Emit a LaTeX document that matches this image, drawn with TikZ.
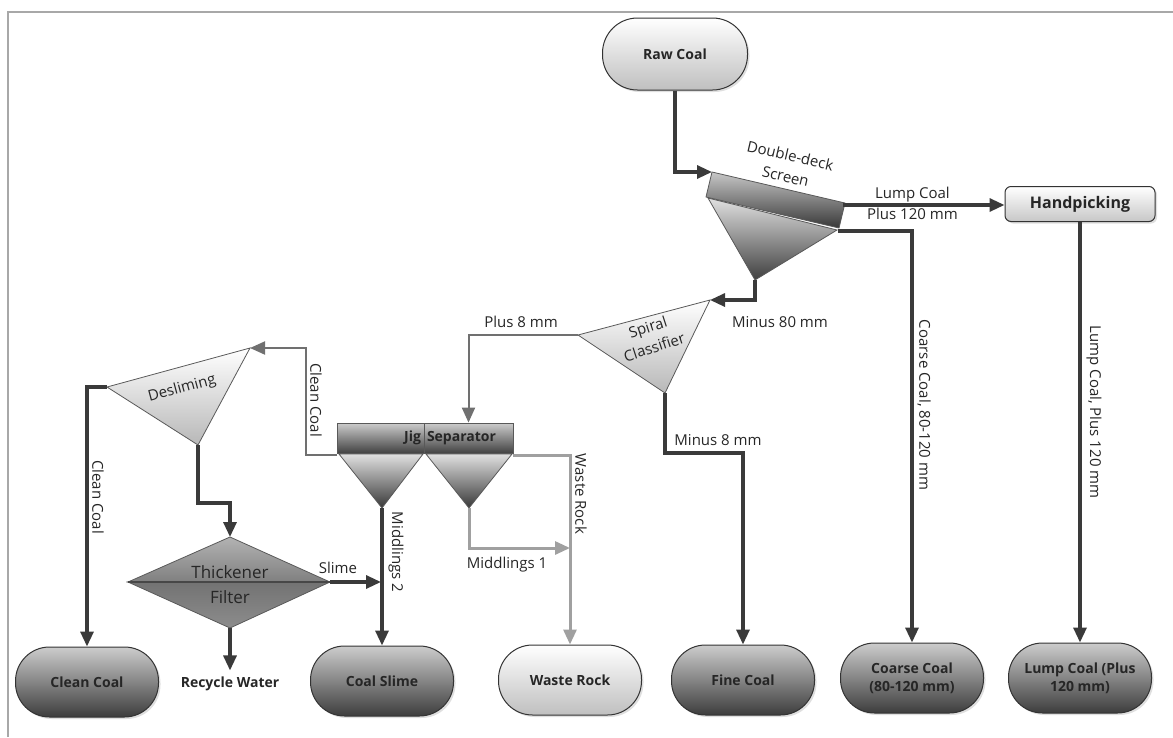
\documentclass[tikz,border=0pt]{standalone}
\usepackage{fontspec}
\setmainfont{Open Sans}
\usetikzlibrary{arrows.meta,shadows}
\definecolor{ink}{HTML}{262626}
\definecolor{linedark}{HTML}{3A3A3A}
\definecolor{linemid}{HTML}{707070}
\definecolor{linelight}{HTML}{A0A0A0}
\definecolor{framegray}{HTML}{A8A8A8}

\begin{document}
\begin{tikzpicture}[x=1pt,y=-1pt,
  font=\fontsize{15}{18}\selectfont, text=ink,
  flowtip/.style={-{Triangle[length=15pt,width=13pt]}},
  mainflow/.style={flowtip, draw=linedark, line width=3.2pt},
  jigflow/.style={flowtip, draw=linemid, line width=2pt},
  rockflow/.style={flowtip, draw=linelight, line width=3pt},
  terminal/.style={rectangle, rounded corners=34pt, minimum width=143pt, minimum height=70pt,
    draw=black!80, line width=1pt, align=center,
    font=\fontsize{14}{18}\selectfont\bfseries,
    drop shadow={shadow xshift=2pt, shadow yshift=-2pt, opacity=0.25}},
  darkterm/.style={terminal, top color=black!20, bottom color=black!76},
  lightterm/.style={terminal, top color=white, bottom color=black!25},
  unit/.style={draw=black!65, line width=0.8pt},
  lbl/.style={inner sep=1pt},
  vlbl/.style={inner sep=1pt, rotate=-90},
  boldlbl/.style={font=\fontsize{14}{18}\selectfont\bfseries},
]
\useasboundingbox (0,0) rectangle (1173,737);

% page frame
\draw[framegray, line width=1.5pt] (8,737) -- (8,12) -- (1173,12);

% ---------- terminals ----------
\node[lightterm, minimum width=145pt, minimum height=72pt, rounded corners=35pt] (raw) at (675,54) {Raw Coal};
\node[rectangle, rounded corners=6pt, minimum width=150pt, minimum height=35pt,
      draw=black!80, line width=1pt, top color=white, bottom color=black!22,
      font=\fontsize{16}{18}\selectfont\bfseries,
      drop shadow={shadow xshift=2pt, shadow yshift=-2pt, opacity=0.25}] (hand) at (1080,204) {Handpicking};
\node[darkterm] (clean)  at (87,682)   {Clean Coal};
\node[darkterm] (slime)  at (382,681)  {Coal Slime};
\node[lightterm] (waste) at (570,680)  {Waste Rock};
\node[darkterm] (fine)   at (743,680)  {Fine Coal};
\node[darkterm] (coarse) at (912,678)  {Coarse Coal\\(80-120 mm)};
\node[darkterm] (lump)   at (1080,678) {Lump Coal (Plus\\120 mm)};

% ---------- double-deck screen ----------
\coordinate (q1) at (708,198);
\coordinate (q2) at (837,230);
\coordinate (qb) at (755,280);
\shadedraw[unit, top color=black!12, bottom color=black!75] (q1) -- (q2) -- (qb) -- cycle;
\coordinate (s1) at (712,172);
\coordinate (s2) at (845,203);
\coordinate (s3) at (839,228);
\coordinate (s4) at (706,197);
\shadedraw[unit, top color=black!22, bottom color=black!78] (s1) -- (s2) -- (s3) -- (s4) -- cycle;
\node[rotate=-13, align=center, lbl, font=\fontsize{15}{21}\selectfont] (screenlbl) at (788,166) {Double-deck\\Screen};

% ---------- spiral classifier ----------
\coordinate (cl) at (578,335);
\coordinate (ct) at (710,300);
\coordinate (cb) at (665,393);
\shadedraw[unit, top color=white, bottom color=black!28] (cl) -- (ct) -- (cb) -- cycle;
\node[rotate=18, align=center, lbl, font=\fontsize{15}{21}\selectfont] (spirallbl) at (651,337) {Spiral\\Classifier};

% ---------- jig separator ----------
\coordinate (j1l) at (339,454);
\coordinate (j1r) at (423,454);
\coordinate (j1b) at (382,508);
\coordinate (j2l) at (426,454);
\coordinate (j2r) at (512,454);
\coordinate (j2b) at (469,508);
\shadedraw[unit, top color=black!12, bottom color=black!78] (j1l) -- (j1r) -- (j1b) -- cycle;
\shadedraw[unit, top color=black!12, bottom color=black!78] (j2l) -- (j2r) -- (j2b) -- cycle;
\node[rectangle, unit, top color=black!20, bottom color=black!74, minimum height=30pt,
      inner sep=3pt, text width=81pt, align=right, boldlbl] (jigA) at (380.5,438) {Jig};
\node[rectangle, unit, top color=black!20, bottom color=black!74, minimum height=30pt,
      inner sep=3pt, text width=83pt, align=left, boldlbl] (jigB) at (468.5,438) {Separator};

% ---------- desliming ----------
\coordinate (dl) at (107,387);
\coordinate (dt) at (250,348);
\coordinate (db) at (198,445);
\shadedraw[unit, top color=white, bottom color=black!28] (dl) -- (dt) -- (db) -- cycle;
\node[rotate=15, lbl] (deslbl) at (182,389) {Desliming};

% ---------- thickener / filter ----------
\coordinate (tl)  at (128,582);
\coordinate (tt)  at (230,537);
\coordinate (tr)  at (330,582);
\coordinate (tkb) at (230,628);
\shadedraw[unit, top color=black!30, bottom color=black!50] (tl) -- (tt) -- (tr) -- cycle;
\shadedraw[unit, top color=black!55, bottom color=black!45] (tl) -- (tr) -- (tkb) -- cycle;
\draw[black!72, line width=1.5pt] (tl) -- (tr);
\node[font=\fontsize{17}{20}\selectfont, text=black!85] (thk) at (230,572) {Thickener};
\node[font=\fontsize{17}{20}\selectfont, text=black!85] (flt) at (230,597) {Filter};

% ---------- connectors ----------
% raw coal to the screen
\draw[mainflow] (raw.south) |- (s1);

% screen overflow to handpicking
\coordinate (lc) at (843,205);
\draw[mainflow] (lc) -- (lc -| hand.west)
  node[pos=0.43, above, lbl] {Lump Coal}
  node[pos=0.43, below, lbl] {Plus 120 mm};

% screen middle deck to coarse coal
\coordinate (cs) at (838,231);
\draw[mainflow] (cs) -| (coarse.north);
\node[vlbl] (coarselbl) at (924,405) {Coarse Coal, 80-120 mm};

% handpicking to lump coal
\draw[mainflow] (hand.south) -- (lump.north);
\node[vlbl] (lumplbl) at (1094,412) {Lump Coal, Plus 120 mm};

% screen underflow to the classifier
\draw[mainflow] (qb) |- (ct);
\node[lbl] (m80) at (780,322) {Minus 80 mm};

% classifier overflow to the jig
\draw[jigflow] (cl) -| (jigB.north);
\node[lbl] (p8) at (521,322) {Plus 8 mm};

% classifier underflow to fine coal
\coordinate (m8) at (743,453);
\draw[mainflow] (cb) |- (m8) -- (fine.north);
\node[lbl] (m8lbl) at (718,440) {Minus 8 mm};

% jig clean coal to desliming
\coordinate (jc)  at (337,455);
\coordinate (jcb) at (306,455);
\draw[jigflow] (jc) -- (jcb) |- (dt);
\node[vlbl] (jcl) at (316,400) {Clean Coal};

% desliming overflow to clean coal
\draw[mainflow] (dl) -| (clean.north);
\node[vlbl] (dcl) at (98,497) {Clean Coal};

% desliming underflow to the thickener
\coordinate (dk) at (230,503);
\draw[mainflow] (db) |- (dk) -- (tt);

% thickener outputs
\coordinate (m2s) at (381,582);
\draw[mainflow] (tr) -- (m2s);
\node[lbl] (slimelbl) at (338,568) {Slime};
\node[boldlbl] (rw) at (230,684) {Recycle Water};
\draw[mainflow, shorten >=3pt] (tkb) -- (rw.north);

% jig middlings
\draw[mainflow] (j1b) -- (slime.north);
\node[vlbl] (m2lbl) at (396,552) {Middlings 2};
\coordinate (wr1) at (570,548);
\draw[rockflow] (j2b) |- (wr1);
\node[lbl] (m1lbl) at (507,565) {Middlings 1};

% jig refuse to waste rock
\coordinate (jr) at (513,455);
\draw[rockflow] (jr) -| (waste.north);
\node[vlbl] (wrlbl) at (581,494) {Waste Rock};
\end{tikzpicture}
\end{document}
